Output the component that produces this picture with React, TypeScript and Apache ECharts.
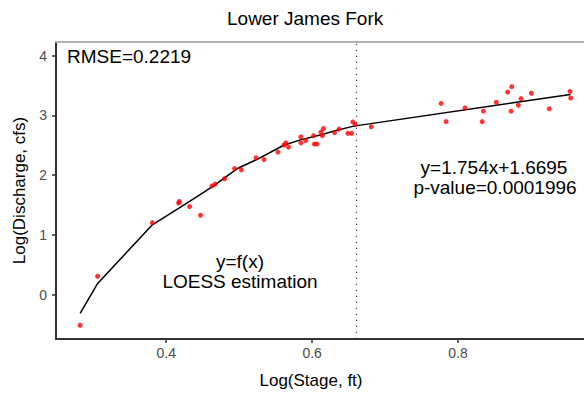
import React, { useEffect, useRef } from "react";
import * as echarts from "echarts";

// Observed data: log stage (x) and log discharge (y)
const stageX = [
  0.282, 0.306, 0.381, 0.417, 0.418, 0.432, 0.447, 0.4626, 0.467, 0.48,
  0.4936, 0.503, 0.523, 0.534, 0.553, 0.5616, 0.564, 0.5676, 0.5845, 0.5845,
  0.591, 0.602, 0.603, 0.6065, 0.612, 0.614, 0.6155, 0.6306, 0.637, 0.649,
  0.654, 0.6557, 0.659, 0.681, 0.7767, 0.7836, 0.8096, 0.833, 0.8347, 0.8525,
  0.868, 0.8736, 0.8726, 0.8826, 0.8863, 0.9005, 0.925, 0.9534, 0.9544,
];
const dischargeY = [
  -0.51, 0.31, 1.205, 1.535, 1.56, 1.475, 1.33, 1.82, 1.85, 1.94,
  2.11, 2.09, 2.29, 2.26, 2.385, 2.505, 2.54, 2.47, 2.64, 2.54,
  2.58, 2.66, 2.52, 2.52, 2.72, 2.66, 2.78, 2.71, 2.77, 2.7,
  2.7, 2.89, 2.845, 2.81, 3.2, 2.895, 3.125, 2.895, 3.07, 3.22,
  3.39, 3.48, 3.07, 3.17, 3.28, 3.37, 3.11, 3.4, 3.29,
];

// Fitted curve: LOESS part up to the breakpoint, then the linear fit
const fitX = [0.282, 0.306, 0.381, 0.432, 0.465, 0.485, 0.499, 0.524, 0.561, 0.584, 0.611, 0.63, 0.657, 0.954];
const fitY = [-0.31, 0.19, 1.17, 1.56, 1.82, 2.0, 2.12, 2.26, 2.5, 2.59, 2.67, 2.74, 2.82, 3.35];

const breakpoint = 0.657;
const xTicks = [0.4, 0.6, 0.8];
const yTicks = [0, 1, 2, 3, 4];
const xRange = [0.2489, 0.9726];
const yRange = [-0.74, 4.227];

const FONT = "Liberation Sans, Arial, Helvetica, sans-serif";

export default function App() {
  const ref = useRef<HTMLDivElement>(null);
  useEffect(() => {
    document.body.style.margin = "0";
    if (!ref.current) return;
    const chart = echarts.init(ref.current, null, { renderer: "svg" });
    const scatterData = stageX.map((x, i) => [x, dischargeY[i]]);
    const fitData = fitX.map((x, i) => [x, fitY[i]]);
    const axisColor = "#333333";
    const labelColor = "#4d4d4d";
    chart.setOption({
      animation: false,
      backgroundColor: "#ffffff",
      textStyle: { fontFamily: FONT },
      title: {
        text: "Lower James Fork",
        left: 227,
        top: 9,
        padding: 0,
        textStyle: { fontSize: 19, fontWeight: "normal", color: "#000", fontFamily: FONT },
      },
      grid: { left: 56, right: 0, top: 42, bottom: 50, containLabel: false },
      xAxis: [
        {
          type: "value",
          min: xRange[0],
          max: xRange[1],
          name: "Log(Stage, ft)",
          nameLocation: "middle",
          nameGap: 33,
          nameTextStyle: { fontSize: 17, color: "#000", fontFamily: FONT, padding: [0, 18, 0, 0] },
          axisLine: { show: true, onZero: false, lineStyle: { color: axisColor, width: 2 } },
          axisTick: { show: true, length: 4, customValues: xTicks, lineStyle: { color: axisColor, width: 1.5 } },
          axisLabel: { show: true, customValues: xTicks, margin: 7, fontSize: 14, color: labelColor, fontFamily: FONT },
          splitLine: { show: false },
        },
        {
          type: "value",
          position: "top",
          min: xRange[0],
          max: xRange[1],
          axisLine: { show: true, onZero: false, lineStyle: { color: "#b3b3b3", width: 2 } },
          axisTick: { show: false },
          axisLabel: { show: false },
          splitLine: { show: false },
        },
      ],
      yAxis: {
        type: "value",
        min: yRange[0],
        max: yRange[1],
        name: "Log(Discharge, cfs)",
        nameLocation: "middle",
        nameGap: 28,
        nameTextStyle: { fontSize: 17, color: "#000", fontFamily: FONT },
        axisLine: { show: true, onZero: false, lineStyle: { color: axisColor, width: 2 } },
        axisTick: { show: true, length: 4, customValues: yTicks, lineStyle: { color: axisColor, width: 1.5 } },
        axisLabel: { show: true, customValues: yTicks, margin: 9, fontSize: 14, color: labelColor, fontFamily: FONT },
        splitLine: { show: false },
      },
      series: [
        {
          type: "line",
          data: fitData,
          showSymbol: false,
          symbol: "none",
          lineStyle: { color: "#000", width: 1.5 },
          z: 2,
          markLine: {
            silent: true,
            symbol: "none",
            label: { show: false },
            lineStyle: { color: "#444", width: 1.3, type: [1.3, 4.7] },
            data: [{ xAxis: breakpoint }],
          },
        },
        {
          type: "scatter",
          data: scatterData,
          symbol: "circle",
          symbolSize: 5,
          itemStyle: { color: "#ff0000" },
          z: 3,
        },
      ],
      graphic: [
        {
          type: "text",
          left: 67,
          top: 47,
          style: { text: "RMSE=0.2219", fill: "#000", fontSize: 19, fontFamily: FONT },
        },
        {
          type: "text",
          x: 494,
          y: 167,
          style: { text: "y=1.754x+1.6695", fill: "#000", fontSize: 19, fontFamily: FONT, align: "center", verticalAlign: "middle" },
        },
        {
          type: "text",
          x: 495,
          y: 187.5,
          style: { text: "p-value=0.0001996", fill: "#000", fontSize: 19, fontFamily: FONT, align: "center", verticalAlign: "middle" },
        },
        {
          type: "text",
          x: 240,
          y: 261.5,
          style: { text: "y=f(x)", fill: "#000", fontSize: 19, fontFamily: FONT, align: "center", verticalAlign: "middle" },
        },
        {
          type: "text",
          x: 240,
          y: 281,
          style: { text: "LOESS estimation", fill: "#000", fontSize: 19, fontFamily: FONT, align: "center", verticalAlign: "middle" },
        },
      ],
    });
    return () => chart.dispose();
  }, []);
  return <div ref={ref} style={{ width: 584, height: 394 }} />;
}
